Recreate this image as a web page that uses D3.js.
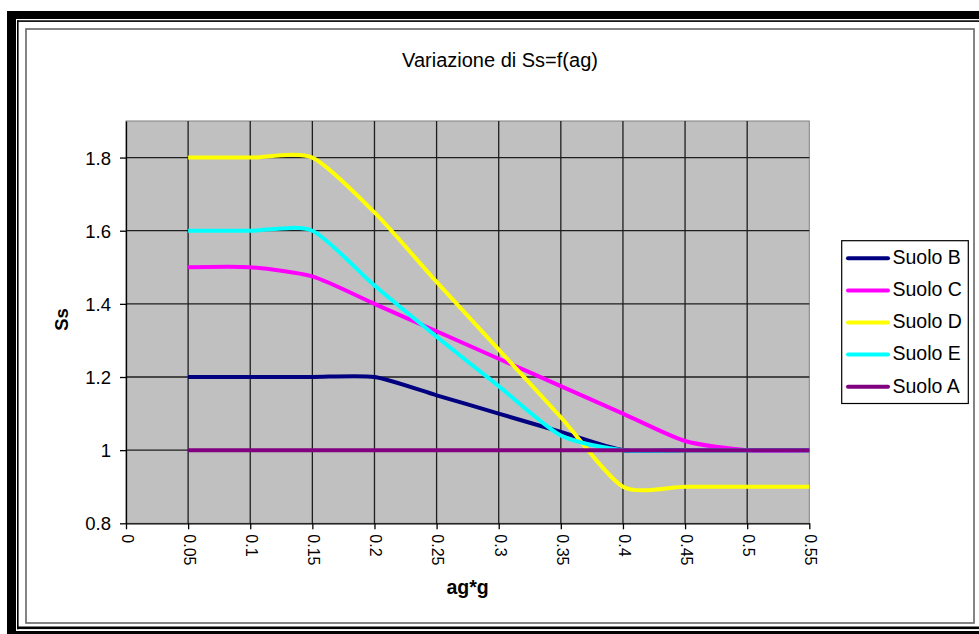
<!DOCTYPE html>
<html>
<head>
<meta charset="utf-8">
<script src="https://cdn.jsdelivr.net/npm/d3@7"></script>
<style>
  html, body { margin: 0; padding: 0; background: #fff; }
  svg { display: block; font-family: "Liberation Sans", Arial, sans-serif; }
</style>
</head>
<body>
<svg id="chart" width="979" height="634"></svg>
<script>
// ag*g values where Ss was computed
const agValues = [0.05, 0.1, 0.15, 0.2, 0.25, 0.3, 0.35, 0.4, 0.45, 0.5, 0.55];

// Ss for each soil category
const suoloB = [1.2, 1.2, 1.2, 1.2, 1.15, 1.1, 1.05, 1.0, 1.0, 1.0, 1.0];
const suoloC = [1.5, 1.5, 1.475, 1.4, 1.325, 1.25, 1.175, 1.1, 1.025, 1.0, 1.0];
const suoloD = [1.8, 1.8, 1.8, 1.65, 1.46, 1.275, 1.09, 0.9, 0.9, 0.9, 0.9];
const suoloE = [1.6, 1.6, 1.6, 1.45, 1.31, 1.175, 1.04, 1.0, 1.0, 1.0, 1.0];
const suoloA = [1.0, 1.0, 1.0, 1.0, 1.0, 1.0, 1.0, 1.0, 1.0, 1.0, 1.0];

const seriesNames = ["Suolo B", "Suolo C", "Suolo D", "Suolo E", "Suolo A"];
const seriesValues = [suoloB, suoloC, suoloD, suoloE, suoloA];
const seriesColors = ["#000080", "#ff00ff", "#ffff00", "#00ffff", "#800080"];

// axis ticks
const xTicks = [0, 0.05, 0.1, 0.15, 0.2, 0.25, 0.3, 0.35, 0.4, 0.45, 0.5, 0.55];
const xTickLabels = ["0", "0.05", "0.1", "0.15", "0.2", "0.25", "0.3", "0.35", "0.4", "0.45", "0.5", "0.55"];
const yTicks = [0.8, 1.0, 1.2, 1.4, 1.6, 1.8];
const yTickLabels = ["0.8", "1", "1.2", "1.4", "1.6", "1.8"];

const titleText = "Variazione di Ss=f(ag)";
const xTitle = "ag*g";
const yTitle = "Ss";

const svg = d3.select("#chart");

// outer double frame
const frame = svg.append("g").attr("fill", "#000");
frame.append("rect").attr("x", 7).attr("y", 11).attr("width", 972).attr("height", 8);
frame.append("rect").attr("x", 7).attr("y", 11).attr("width", 9).attr("height", 623);
frame.append("rect").attr("x", 17).attr("y", 20.3).attr("width", 962).attr("height", 1.6);
frame.append("rect").attr("x", 17).attr("y", 20.3).attr("width", 1.6).attr("height", 609);
frame.append("rect").attr("x", 17).attr("y", 626.5).attr("width", 962).attr("height", 2.6);
frame.append("rect").attr("x", 7).attr("y", 631).attr("width", 972).attr("height", 3);

// chart area
svg.append("rect")
  .attr("x", 26).attr("y", 29).attr("width", 948).attr("height", 594)
  .attr("fill", "#fff").attr("stroke", "#666").attr("stroke-width", 1.6);

const plot = { left: 126, right: 809.3, top: 121, bottom: 523.3 };

const x = d3.scaleLinear().domain([0, 0.55]).range([plot.left, plot.right]);
const y = d3.scaleLinear().domain([0.8, 1.9]).range([plot.bottom, plot.top]);

// plot background
svg.append("rect")
  .attr("x", plot.left).attr("y", plot.top)
  .attr("width", plot.right - plot.left).attr("height", plot.bottom - plot.top)
  .attr("fill", "#c0c0c0").attr("stroke", "#808080").attr("stroke-width", 1);

// gridlines
const grid = svg.append("g").attr("stroke", "#1e1e1e").attr("stroke-width", 1.3);
grid.selectAll("line.v").data(xTicks.filter(d => d > 0 && d < 0.55)).join("line")
  .attr("class", "v")
  .attr("x1", d => x(d)).attr("x2", d => x(d))
  .attr("y1", plot.top).attr("y2", plot.bottom);
grid.selectAll("line.h").data(yTicks.filter(d => d > 0.8)).join("line")
  .attr("class", "h")
  .attr("x1", plot.left).attr("x2", plot.right)
  .attr("y1", d => y(d)).attr("y2", d => y(d));

// x axis
const xAxis = d3.axisBottom(x)
  .tickValues(xTicks)
  .tickSizeInner(6)
  .tickSizeOuter(0)
  .tickFormat((d, i) => xTickLabels[i]);
const gx = svg.append("g")
  .attr("transform", `translate(0,${plot.bottom})`)
  .call(xAxis);
gx.select(".domain").attr("stroke", "#000").attr("stroke-width", 1.3);
gx.selectAll(".tick line").attr("stroke", "#000").attr("stroke-width", 1.3);
gx.selectAll(".tick text")
  .attr("fill", "#000")
  .attr("font-size", "16px")
  .attr("font-family", "Liberation Sans, Arial, sans-serif")
  .attr("text-anchor", "start")
  .attr("x", 0).attr("y", 0)
  .attr("dy", "0.35em")
  .attr("transform", "translate(1,11) rotate(90)");

// y axis
const yAxis = d3.axisLeft(y)
  .tickValues(yTicks)
  .tickSizeInner(6)
  .tickSizeOuter(0)
  .tickFormat((d, i) => yTickLabels[i]);
const gy = svg.append("g")
  .attr("transform", `translate(${plot.left},0)`)
  .call(yAxis);
gy.select(".domain").attr("stroke", "#000").attr("stroke-width", 1.3);
gy.selectAll(".tick line").attr("stroke", "#000").attr("stroke-width", 1.3);
gy.selectAll(".tick text")
  .attr("fill", "#000")
  .attr("font-size", "18.5px")
  .attr("font-family", "Liberation Sans, Arial, sans-serif")
  .attr("x", -15)
  .attr("dy", "0.36em");

// series lines, smoothed
const line = d3.line()
  .x((d, i) => x(agValues[i]))
  .y(d => y(d))
  .curve(d3.curveCardinal.tension(0.3));

svg.append("g").selectAll("path").data(seriesValues).join("path")
  .attr("d", d => line(d))
  .attr("fill", "none")
  .attr("stroke", (d, i) => seriesColors[i])
  .attr("stroke-width", 4)
  .attr("stroke-linejoin", "round");

// titles
svg.append("text")
  .attr("x", 500).attr("y", 66.5)
  .attr("text-anchor", "middle")
  .attr("font-size", "20px")
  .attr("fill", "#000")
  .text(titleText);

svg.append("text")
  .attr("x", (plot.left + plot.right) / 2).attr("y", 594)
  .attr("text-anchor", "middle")
  .attr("font-size", "19.5px")
  .attr("font-weight", "bold")
  .attr("fill", "#000")
  .text(xTitle);

svg.append("text")
  .attr("transform", "translate(68,319.5) rotate(-90)")
  .attr("text-anchor", "middle")
  .attr("font-size", "18.5px")
  .attr("font-weight", "bold")
  .attr("fill", "#000")
  .text(yTitle);

// legend
const legend = svg.append("g");
legend.append("rect")
  .attr("x", 841.7).attr("y", 240.7).attr("width", 126.6).attr("height", 162.8)
  .attr("fill", "#fff").attr("stroke", "#000").attr("stroke-width", 1.2);

const legendY = d3.scalePoint().domain(seriesNames).range([258.3, 386.7]);
const items = legend.selectAll("g.item").data(seriesNames).join("g")
  .attr("class", "item")
  .attr("transform", d => `translate(0,${legendY(d)})`);
items.append("line")
  .attr("x1", 848).attr("x2", 888)
  .attr("y1", 0).attr("y2", 0)
  .attr("stroke", (d, i) => seriesColors[i])
  .attr("stroke-width", 4)
  .attr("stroke-linecap", "round");
items.append("text")
  .attr("x", 892.5).attr("y", 0)
  .attr("dy", "0.3em")
  .attr("font-size", "19.5px")
  .attr("fill", "#000")
  .text(d => d);
</script>
</body>
</html>
